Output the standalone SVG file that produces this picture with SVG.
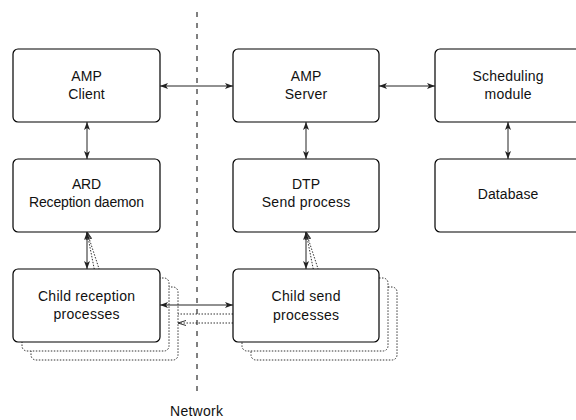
<svg xmlns="http://www.w3.org/2000/svg" width="576" height="420" viewBox="0 0 576 420">
<defs>
<marker id="ah" viewBox="0 0 8 6" refX="8" refY="3" markerWidth="8" markerHeight="6" orient="auto-start-reverse" markerUnits="userSpaceOnUse">
<path d="M0,0 L8,3 L0,6 L2,3 z" fill="#222"/>
</marker>
<marker id="ahd" viewBox="0 0 8 6" refX="8" refY="3" markerWidth="8" markerHeight="6" orient="auto-start-reverse" markerUnits="userSpaceOnUse">
<path d="M0,0.5 L8,3 L0,5.5" fill="none" stroke="#333" stroke-width="1"/>
</marker>
</defs>
<style>
.box{fill:#fff;stroke:#000;stroke-width:1.2}
.sh{fill:#fff;stroke:#333;stroke-width:1;stroke-dasharray:1.5 1.5}
.t{font-family:"Liberation Sans",Arial,sans-serif;font-size:14px;fill:#111;text-anchor:middle}
.c{stroke:#222;stroke-width:1;fill:none;marker-start:url(#ah);marker-end:url(#ah)}
.cd{stroke:#333;stroke-width:1;fill:none;stroke-dasharray:1.5 1.5;marker-end:url(#ahd)}
</style>
<rect width="576" height="420" fill="#fff"/>
<line x1="197" y1="12" x2="197" y2="395" stroke="#000" stroke-width="1" stroke-dasharray="5 6"/>
<text class="t" x="196.5" y="416" textLength="53" lengthAdjust="spacing">Network</text>
<g id="amp-client"><rect class="box" x="13" y="49" width="147" height="73" rx="5"/><text class="t" x="86.5" y="81" textLength="30.5" lengthAdjust="spacing">AMP</text><text class="t" x="86.5" y="99" textLength="36.5" lengthAdjust="spacing">Client</text></g>
<g id="amp-server"><rect class="box" x="233" y="49" width="146" height="73" rx="5"/><text class="t" x="306" y="81" textLength="30.5" lengthAdjust="spacing">AMP</text><text class="t" x="306" y="99" textLength="42.5" lengthAdjust="spacing">Server</text></g>
<g id="scheduling"><rect class="box" x="435" y="49" width="146" height="73" rx="5"/><text class="t" x="508" y="81" textLength="71" lengthAdjust="spacing">Scheduling</text><text class="t" x="508" y="99" textLength="47" lengthAdjust="spacing">module</text></g>
<g id="ard"><rect class="box" x="13" y="159" width="147" height="73" rx="5"/><text class="t" x="86.5" y="189" textLength="29" lengthAdjust="spacing">ARD</text><text class="t" x="86.5" y="207" textLength="115" lengthAdjust="spacing">Reception daemon</text></g>
<g id="dtp"><rect class="box" x="233" y="159" width="146" height="73" rx="5"/><text class="t" x="306" y="189" textLength="28" lengthAdjust="spacing">DTP</text><text class="t" x="306" y="207" textLength="88.5" lengthAdjust="spacing">Send process</text></g>
<g id="database"><rect class="box" x="435" y="159" width="146" height="73" rx="5"/><text class="t" x="508" y="199" textLength="60.5" lengthAdjust="spacing">Database</text></g>
<g id="connectors">
<line class="c" x1="160" y1="86" x2="233" y2="86"/>
<line class="c" x1="379" y1="86" x2="435" y2="86"/>
<line class="c" x1="87" y1="122" x2="87" y2="159"/>
<line class="c" x1="306" y1="122" x2="306" y2="159"/>
<line class="c" x1="508" y1="122" x2="508" y2="159"/>
<line class="cd" x1="105" y1="287" x2="87" y2="232"/>
<line class="cd" x1="96" y1="278" x2="87" y2="232"/>
<line class="cd" x1="324" y1="287" x2="306" y2="232"/>
<line class="cd" x1="315" y1="278" x2="306" y2="232"/>
<line class="cd" x1="233" y1="323" x2="178" y2="323"/>
<line class="cd" x1="233" y1="314" x2="169" y2="314"/>
</g>
<g id="child-reception">
<rect class="sh" x="31" y="287" width="147" height="73" rx="5"/>
<rect class="sh" x="22" y="278" width="147" height="73" rx="5"/>
<rect class="box" x="13" y="269" width="147" height="73" rx="5"/>
<text class="t" x="86.5" y="301" textLength="97" lengthAdjust="spacing">Child reception</text><text class="t" x="86.5" y="319" textLength="66" lengthAdjust="spacing">processes</text>
</g>
<g id="child-send">
<rect class="sh" x="251" y="287" width="146" height="73" rx="5"/>
<rect class="sh" x="242" y="278" width="146" height="73" rx="5"/>
<rect class="box" x="233" y="269" width="146" height="73" rx="5"/>
<text class="t" x="306" y="301" textLength="69" lengthAdjust="spacing">Child send</text><text class="t" x="306" y="320" textLength="66" lengthAdjust="spacing">processes</text>
</g>
<g id="connectors-front">
<line class="c" x1="87" y1="269" x2="87" y2="232"/>
<line class="c" x1="306" y1="269" x2="306" y2="232"/>
<line class="c" x1="160" y1="305" x2="233" y2="305"/>
</g>
</svg>
